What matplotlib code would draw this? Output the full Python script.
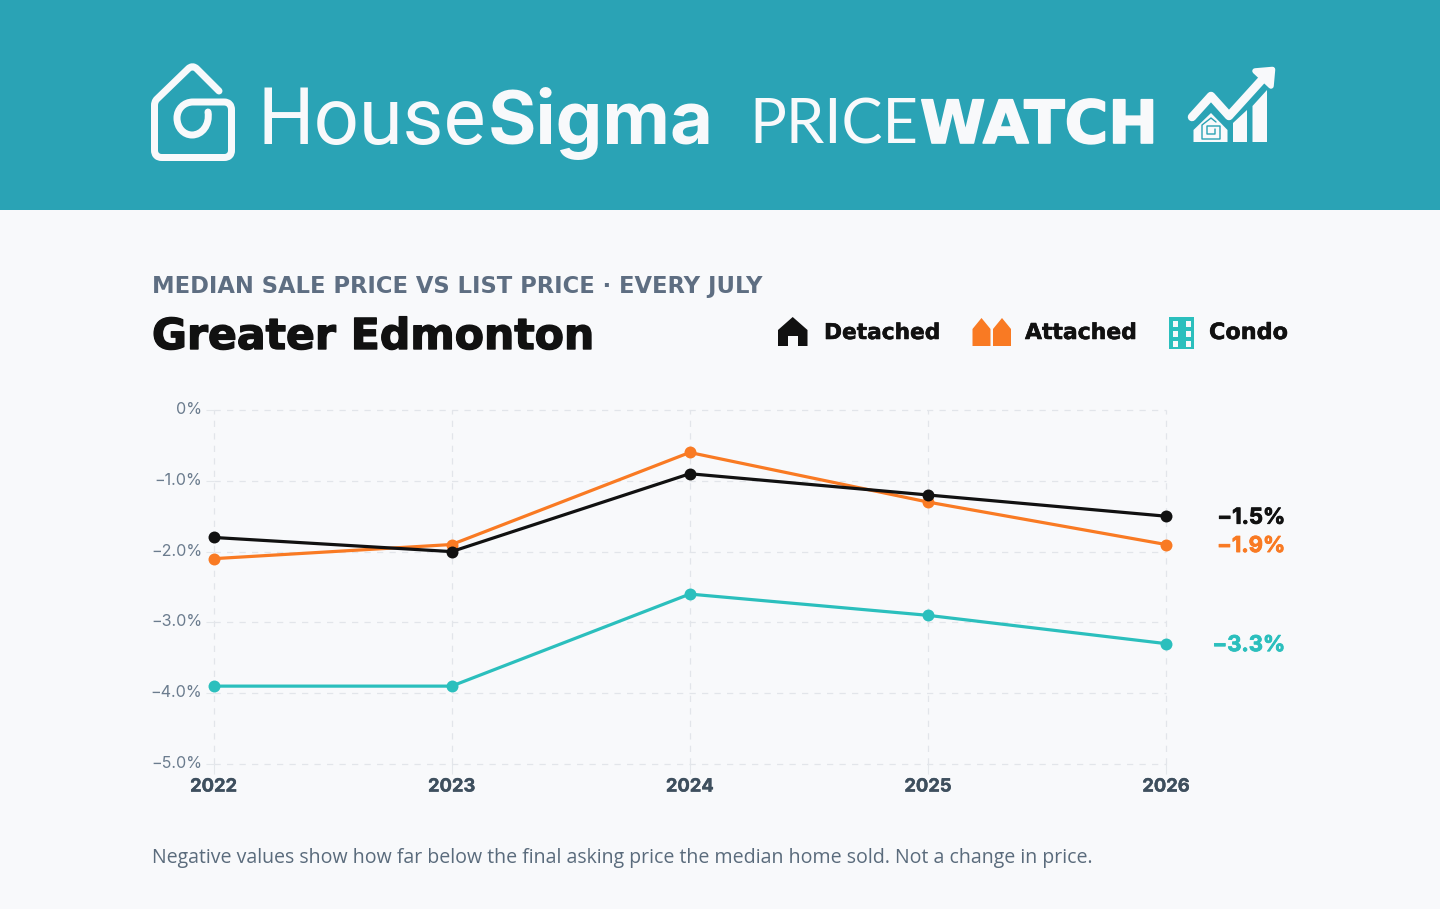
import matplotlib
matplotlib.use("Agg")
import matplotlib.pyplot as plt
import matplotlib.patheffects as pe
from matplotlib.patches import Rectangle, Polygon, PathPatch
from matplotlib.path import Path
from matplotlib.transforms import ScaledTranslation

years = ["2022", "2023", "2024", "2025", "2026"]
detached = [-1.8, -2.0, -0.9, -1.2, -1.5]
attached = [-2.1, -1.9, -0.6, -1.3, -1.9]
condo = [-3.9, -3.9, -2.6, -2.9, -3.3]
y_ticks = [0, -1, -2, -3, -4, -5]
y_labels = ["0%", "\u22121.0%", "\u22122.0%", "\u22123.0%", "\u22124.0%", "\u22125.0%"]
end_labels = ["\u22121.5%", "\u22121.9%", "\u22123.3%"]

BANNER = "#2AA3B5"
BG = "#F8F9FB"
BLACK = "#111111"
ORANGE = "#F97A23"
TEAL = "#2BBFBD"
WHITE = "#F8F9FB"

W, H = 1440, 909
fig = plt.figure(figsize=(14.4, 9.09), dpi=100, facecolor=BG)
bgax = fig.add_axes([0, 0, 1, 1])
bgax.set_xlim(0, W)
bgax.set_ylim(H, 0)
bgax.axis("off")
rend = fig.canvas.get_renderer()


def fit(x0, x1, base, s, color, family, weight="normal", size=20, extra=0):
    t = bgax.text(x0, base, s, color=color, family=family, weight=weight,
                  fontsize=size, ha="left", va="baseline", zorder=5)
    for _ in range(3):
        w = t.get_window_extent(rend).width
        size = size * (x1 - x0) / w
        t.set_fontsize(size)
    if extra:
        t.set_path_effects([pe.withStroke(linewidth=extra, foreground=color)])
    return t


def stroke(verts, codes=None, lw=6, color=WHITE, z=3):
    p = Path(verts, codes)
    bgax.add_patch(PathPatch(p, fc="none", ec=color, lw=lw * 0.72,
                             capstyle="round", joinstyle="round", zorder=z))


# banner
bgax.add_patch(Rectangle((0, 0), W, 210, fc=BANNER, ec="none", zorder=1))

# HouseSigma logo mark
M, L, C = Path.MOVETO, Path.LINETO, Path.CURVE4
logo = [
    (M, [(219, 91)]),
    (L, [(197, 69)]),
    (C, [(194, 66), (191, 66), (188, 69)]),
    (L, [(157, 99)]),
    (C, [(155, 101), (154.5, 103), (154.5, 106)]),
    (L, [(154.5, 150)]),
    (C, [(154.5, 155), (157, 157.5), (162, 157.5)]),
    (L, [(224, 157.5)]),
    (C, [(229, 157.5), (231.5, 155), (231.5, 150)]),
    (L, [(231.5, 110)]),
    (C, [(231.5, 105), (229, 102), (224, 102)]),
    (L, [(193, 102)]),
    (C, [(184, 102), (177, 109), (177, 118)]),
    (C, [(177, 128), (184, 135), (192, 135)]),
    (C, [(202, 135), (210, 125), (208, 112)]),
]
lv, lc = [], []
for code, pts in logo:
    lv += pts
    lc += [code] * len(pts)
stroke(lv, lc, lw=7)

fit(258, 487, 144, "House", WHITE, "Roboto", "normal", 58)
fit(488, 714, 144, "Sigma", WHITE, "Inter", "bold", 58)
fit(749, 918, 143, "PRICE", WHITE, "Lato", "normal", 44)
fit(920, 1158, 143, "WATCH", WHITE, "DejaVu Sans", "bold", 44, extra=1.2)

# PriceWatch icon
stroke([(1192, 117), (1211, 96), (1229, 116), (1268, 73)], lw=8.5)
bgax.add_patch(Polygon([(1255, 71), (1272.5, 69.5), (1271, 86)], closed=True, fc=WHITE, ec=WHITE,
                       lw=4, joinstyle="round", zorder=3))
bgax.add_patch(Polygon([(1233, 123), (1247, 110), (1247, 142), (1233, 142)], fc=WHITE, ec="none", zorder=3))
bgax.add_patch(Polygon([(1252.5, 106), (1267, 90), (1267, 142), (1252.5, 142)], fc=WHITE, ec="none", zorder=3))
bgax.add_patch(Polygon([(1193.5, 130), (1211, 113), (1227.5, 130), (1227.5, 142), (1193.5, 142)],
                       fc=WHITE, ec="none", zorder=3))
stroke([(1216, 122), (1211, 118), (1202, 125), (1202, 139), (1220, 139), (1220, 126), (1207, 126),
        (1207, 134), (1215, 134), (1215, 129)], lw=1.4, color=BANNER, z=4)

# titles
fit(152, 762, 293, "MEDIAN SALE PRICE VS LIST PRICE \u00b7 EVERY JULY", "#5E6E82", "DejaVu Sans", "bold", 14)
fit(152, 594, 349, "Greater Edmonton", BLACK, "DejaVu Sans", "bold", 34, extra=1.0)

# legend icons
bgax.add_patch(Polygon([(778, 330), (792.7, 317), (807.5, 330), (807.5, 346), (798, 346), (798, 336),
                        (788, 336), (788, 346), (778, 346)], fc=BLACK, ec="none", zorder=3))
for x0, x1 in [(972.5, 990.5), (993, 1011)]:
    xm = (x0 + x1) / 2
    bgax.add_patch(Polygon([(x0, 329), (xm, 318), (x1, 329), (x1, 346), (x0, 346)], fc=ORANGE, ec="none", zorder=3))
bgax.add_patch(Rectangle((1168.5, 317), 25.5, 32, fc=TEAL, ec="none", zorder=3))
for wx in (1172.5, 1185.5):
    for wy in (321, 331, 341):
        bgax.add_patch(Rectangle((wx, wy), 5.5, 6, fc=BG, ec="none", zorder=4))

fit(824, 940, 339, "Detached", BLACK, "DejaVu Sans", "bold", 17, extra=0.4)
fit(1025, 1137, 339, "Attached", BLACK, "DejaVu Sans", "bold", 17, extra=0.4)
fit(1209, 1288, 339, "Condo", BLACK, "DejaVu Sans", "bold", 17, extra=0.4)

# footer
fit(152, 1088, 863, "Negative values show how far below the final asking price the median home sold. Not a change in price.",
    "#5A6B7C", "Open Sans", "normal", 14)

# chart
left, right, top, bottom = 213.5, 1166, 410, 764
ax = fig.add_axes([left / W, 1 - bottom / H, (right - left) / W, (bottom - top) / H])
ax.patch.set_alpha(0)
xs = list(range(len(years)))
ax.set_xlim(0, len(years) - 1)
ax.set_ylim(-5, 0)
for s in ax.spines.values():
    s.set_visible(False)
ax.set_xticks(xs, years, family="Inter", weight="bold", fontsize=13.2, color="#3E4F5E")
ax.set_yticks(y_ticks, y_labels, family="Inter", fontsize=11.6, color="#6B7C8E")
ax.tick_params(axis="x", length=7, width=0.8, color="#E4E7EB", pad=3.5)
ax.tick_params(axis="y", length=6, width=0.8, color="#E4E7EB", pad=2)
up = ScaledTranslation(0, 2 / 72 * 0.72, fig.dpi_scale_trans)
for lab in ax.get_yticklabels():
    lab.set_transform(lab.get_transform() + up)
for lab in ax.get_xticklabels():
    lab.set_path_effects([pe.withStroke(linewidth=0.3, foreground="#3E4F5E")])
ax.grid(True, color="#E2E5EA", lw=0.9, ls=(0, (5, 5)), clip_on=False)
ax.set_axisbelow(True)

series = [(condo, TEAL, end_labels[2]), (attached, ORANGE, end_labels[1]), (detached, BLACK, end_labels[0])]
for vals, col, lab in series:
    ax.plot(xs, vals, color=col, lw=2.3, marker="o", ms=8.6, mew=0, clip_on=False, zorder=3)
    t = ax.annotate(lab, xy=(xs[-1], vals[-1]), xytext=(119, -1.5), textcoords="offset pixels",
                    ha="right", va="center", color=col, family="Inter", weight="bold", fontsize=15.8)
    t.set_path_effects([pe.withStroke(linewidth=0.6, foreground=col)])

fig.savefig("out.png", dpi=100, facecolor=BG)
